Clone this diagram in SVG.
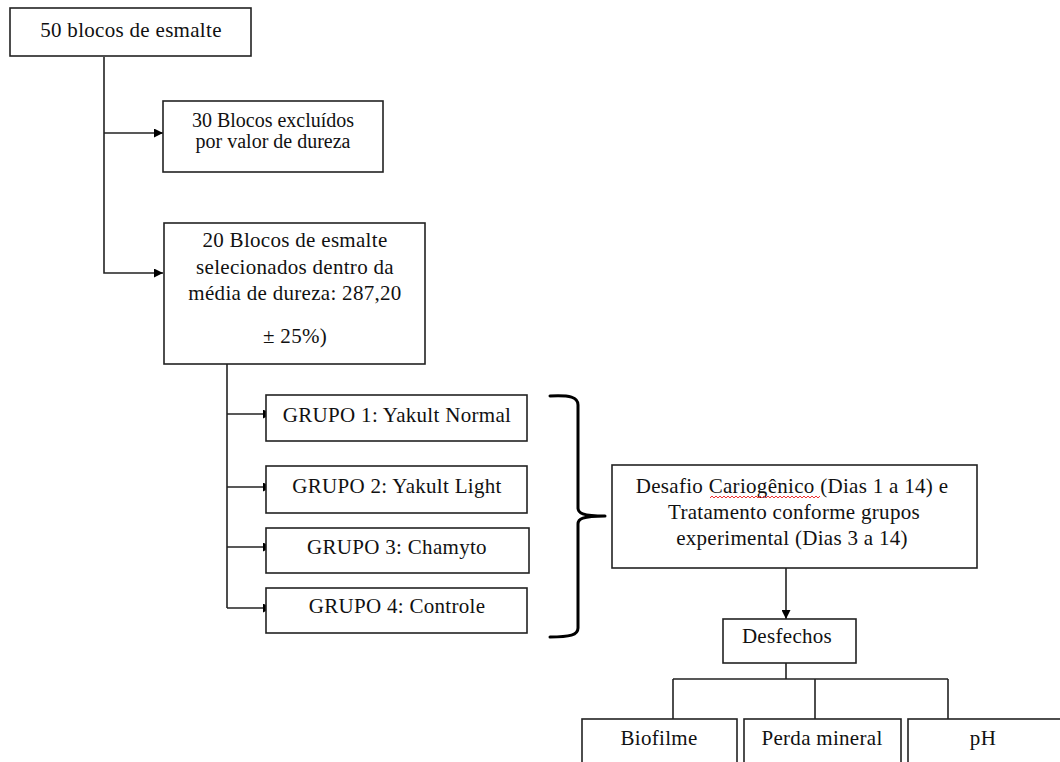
<svg xmlns="http://www.w3.org/2000/svg" width="1060" height="762" viewBox="0 0 1060 762">
<style>
.box{fill:#fff;stroke:#222;stroke-width:1.6}
.t{font-family:"Liberation Serif","Times New Roman",serif;font-size:20px;fill:#111;text-anchor:middle}
.g{font-size:21px;letter-spacing:0.3px}
.c{fill:none;stroke:#222;stroke-width:1.6}
.br{fill:none;stroke:#000;stroke-width:3;stroke-linecap:round}
</style>
<defs>
<marker id="ah" viewBox="0 0 10 10" refX="10" refY="5" markerWidth="9" markerHeight="9" markerUnits="userSpaceOnUse" orient="auto">
<path d="M0,0 L10,5 L0,10 z" fill="#000"/>
</marker>
</defs>
<g id="connectors">
<path class="c" d="M104,57 V273 H163" marker-end="url(#ah)"/>
<path class="c" d="M104,133 H163" marker-end="url(#ah)"/>
<path class="c" d="M227,364 V608"/>
<path class="c" d="M227,414 H272" marker-end="url(#ah)"/>
<path class="c" d="M227,487 H272" marker-end="url(#ah)"/>
<path class="c" d="M227,547 H272" marker-end="url(#ah)"/>
<path class="c" d="M227,608 H272" marker-end="url(#ah)"/>
<path class="br" d="M550,396 C570,395 578,397 578,405 L578,508 C578,513 582,516 605,516 M605,516 C582,516 578,519 578,524 L578,628 C578,635 570,637 550,637"/>
<path class="c" d="M786,568 V619" marker-end="url(#ah)"/>
<path class="c" d="M786,663 V679 M673,679 H948 M673,679 V719 M815,679 V719 M948,679 V719"/>
</g>
<g id="n1">
<rect class="box" x="10" y="8" width="241" height="48"/>
<text class="t g" x="131" y="37">50 blocos de esmalte</text>
</g>
<g id="n2">
<rect class="box" x="163" y="101" width="220" height="71"/>
<text class="t" x="273" y="127">30 Blocos excluídos</text>
<text class="t" x="273" y="148">por valor de dureza</text>
</g>
<g id="n3">
<rect class="box" x="164" y="223" width="261" height="141"/>
<text class="t g" x="295" y="247">20 Blocos de esmalte</text>
<text class="t g" x="295" y="274">selecionados dentro da</text>
<text class="t g" x="295" y="300">média de dureza: 287,20</text>
<text class="t g" x="295" y="343">± 25%)</text>
</g>
<g id="g1">
<rect class="box" x="266" y="395" width="261" height="46"/>
<text class="t g" x="397" y="422">GRUPO 1: Yakult Normal</text>
</g>
<g id="g2">
<rect class="box" x="266" y="466" width="261" height="47"/>
<text class="t g" x="397" y="493">GRUPO 2: Yakult Light</text>
</g>
<g id="g3">
<rect class="box" x="266" y="528" width="263" height="45"/>
<text class="t g" x="397" y="554">GRUPO 3: Chamyto</text>
</g>
<g id="g4">
<rect class="box" x="266" y="588" width="261" height="45"/>
<text class="t g" x="397" y="613">GRUPO 4: Controle</text>
</g>
<g id="desafio">
<rect class="box" x="612" y="465" width="365" height="103"/>
<text class="t g" x="792" y="493">Desafio Cariogênico (Dias 1 a 14) e</text>
<path d="M710,498 l2,-2 l2,2 l2,-2 l2,2 l2,-2 l2,2 l2,-2 l2,2 l2,-2 l2,2 l2,-2 l2,2 l2,-2 l2,2 l2,-2 l2,2 l2,-2 l2,2 l2,-2 l2,2 l2,-2 l2,2 l2,-2 l2,2 l2,-2 l2,2 l2,-2 l2,2 l2,-2 l2,2 l2,-2 l2,2 l2,-2 l2,2 l2,-2 l2,2 l2,-2 l2,2 l2,-2 l2,2 l2,-2 l2,2 l2,-2 l2,2 l2,-2 l2,2 l2,-2 l2,2 l2,-2 l2,2 l2,-2 l2,2 l2,-2 l2,2 l2,-2" fill="none" stroke="#e33" stroke-width="1"/>
<text class="t g" x="794" y="519">Tratamento conforme grupos</text>
<text class="t g" x="792" y="545">experimental (Dias 3 a 14)</text>
</g>
<g id="desfechos">
<rect class="box" x="723" y="619" width="133" height="44"/>
<text class="t g" x="787" y="643">Desfechos</text>
</g>
<g id="biofilme">
<rect class="box" x="582" y="719" width="155" height="60"/>
<text class="t g" x="659" y="745">Biofilme</text>
</g>
<g id="perda">
<rect class="box" x="744" y="719" width="157" height="60"/>
<text class="t g" x="822" y="745">Perda mineral</text>
</g>
<g id="ph">
<rect class="box" x="908" y="719" width="160" height="60"/>
<text class="t g" x="983" y="745">pH</text>
</g>
</svg>
